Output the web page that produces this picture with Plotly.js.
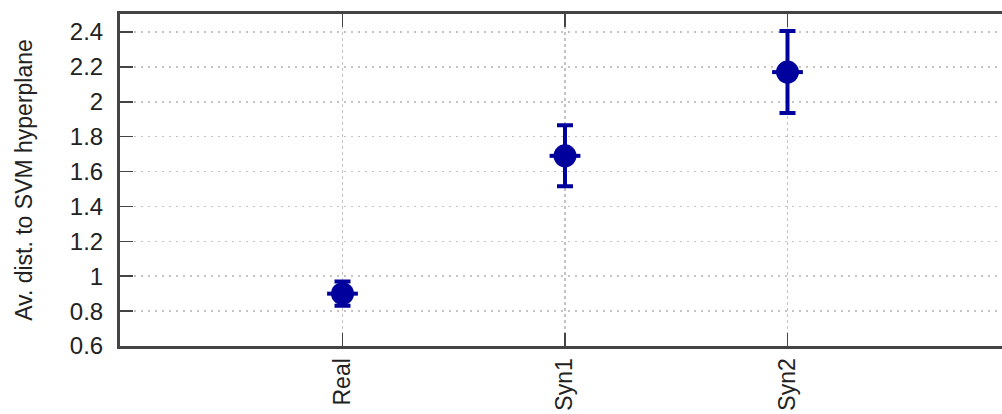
<!DOCTYPE html>
<html>
<head>
<meta charset="utf-8">
<script src="https://cdn.plot.ly/plotly-3.0.1.min.js"></script>
<style>
  html, body { margin: 0; padding: 0; overflow: hidden; background: #fff; }
  #wrap { width: 1002px; height: 414px; overflow: hidden; }
  #chart { width: 1060px; height: 414px; }
</style>
</head>
<body>
<div id="wrap"><div id="chart"></div></div>
<script>
// Average distance to the SVM hyperplane per data set, with spread
const datasets = ['Real', 'Syn1', 'Syn2'];
const avgDistance = [0.90, 1.69, 2.17];
const distanceError = [0.07, 0.175, 0.235];
const yTicks = [0.6, 0.8, 1, 1.2, 1.4, 1.6, 1.8, 2, 2.2, 2.4];
const yTickText = ['0.6', '0.8', '1', '1.2', '1.4', '1.6', '1.8', '2', '2.2', '2.4'];

const markColor = '#00009c';
const axisColor = '#444444';
const gridColor = '#c4c4c4';
const yRange = [0.6, 2.503];
const xRange = [-1, 3];

const points = {
  type: 'scatter',
  mode: 'markers',
  x: datasets,
  y: avgDistance,
  error_y: { type: 'data', array: distanceError, visible: true,
             thickness: 4, width: 8, color: markColor },
  marker: { size: 23, color: markColor, symbol: 'circle' },
  showlegend: false
};

// short horizontal stroke through each point
const pointBars = {
  type: 'scatter',
  mode: 'markers',
  x: datasets,
  y: avgDistance,
  marker: { size: 22, symbol: 'line-ew', color: markColor,
            line: { width: 4, color: markColor } },
  hoverinfo: 'skip',
  showlegend: false
};

const sideTicks = { ticks: 'inside', ticklen: 13, tickwidth: 1.5, tickcolor: axisColor };

const layout = {
  width: 1060,
  height: 414,
  margin: { l: 120, r: 50, t: 14, b: 68 },
  paper_bgcolor: '#ffffff',
  plot_bgcolor: '#ffffff',
  font: { family: 'Liberation Sans, Arial, sans-serif', size: 24, color: '#222' },
  xaxis: Object.assign({
    type: 'category',
    categoryarray: datasets,
    range: xRange,
    tickangle: -90,
    tickfont: { size: 23 },
    ticklabelstandoff: 0,
    showline: true,
    linewidth: 3,
    linecolor: axisColor,
    mirror: false,
    showgrid: true,
    gridcolor: gridColor,
    gridwidth: 1.5,
    griddash: 'dot',
    zeroline: false,
    fixedrange: true
  }, sideTicks),
  // frame line and tick marks along the top
  xaxis2: Object.assign({
    type: 'category',
    categoryarray: datasets,
    overlaying: 'x',
    side: 'top',
    anchor: 'y',
    range: xRange,
    showticklabels: false,
    showline: true,
    linewidth: 3,
    linecolor: axisColor,
    showgrid: false,
    zeroline: false,
    fixedrange: true
  }, sideTicks),
  yaxis: Object.assign({
    range: yRange,
    tickvals: yTicks,
    ticktext: yTickText,
    ticklabelstandoff: 9,
    showline: true,
    linewidth: 3,
    linecolor: axisColor,
    mirror: false,
    showgrid: true,
    gridcolor: gridColor,
    gridwidth: 1.5,
    griddash: '2px,5px',
    zeroline: false,
    fixedrange: true,
    title: { text: 'Av. dist. to SVM hyperplane', font: { size: 23, color: '#222' }, standoff: 31 }
  }, sideTicks),
  // tick marks along the right edge
  yaxis2: Object.assign({
    overlaying: 'y',
    side: 'right',
    anchor: 'x',
    range: yRange,
    tickvals: yTicks,
    showticklabels: false,
    showline: false,
    showgrid: false,
    zeroline: false,
    fixedrange: true
  }, sideTicks)
};

// an invisible trace on the top axis so it shares the category layout
const topAxisHolder = {
  type: 'scatter', mode: 'markers', x: datasets, y: avgDistance,
  xaxis: 'x2', yaxis: 'y', marker: { opacity: 0 }, hoverinfo: 'skip', showlegend: false
};

Plotly.newPlot('chart', [points, pointBars, topAxisHolder], layout, { staticPlot: true });
</script>
</body>
</html>
